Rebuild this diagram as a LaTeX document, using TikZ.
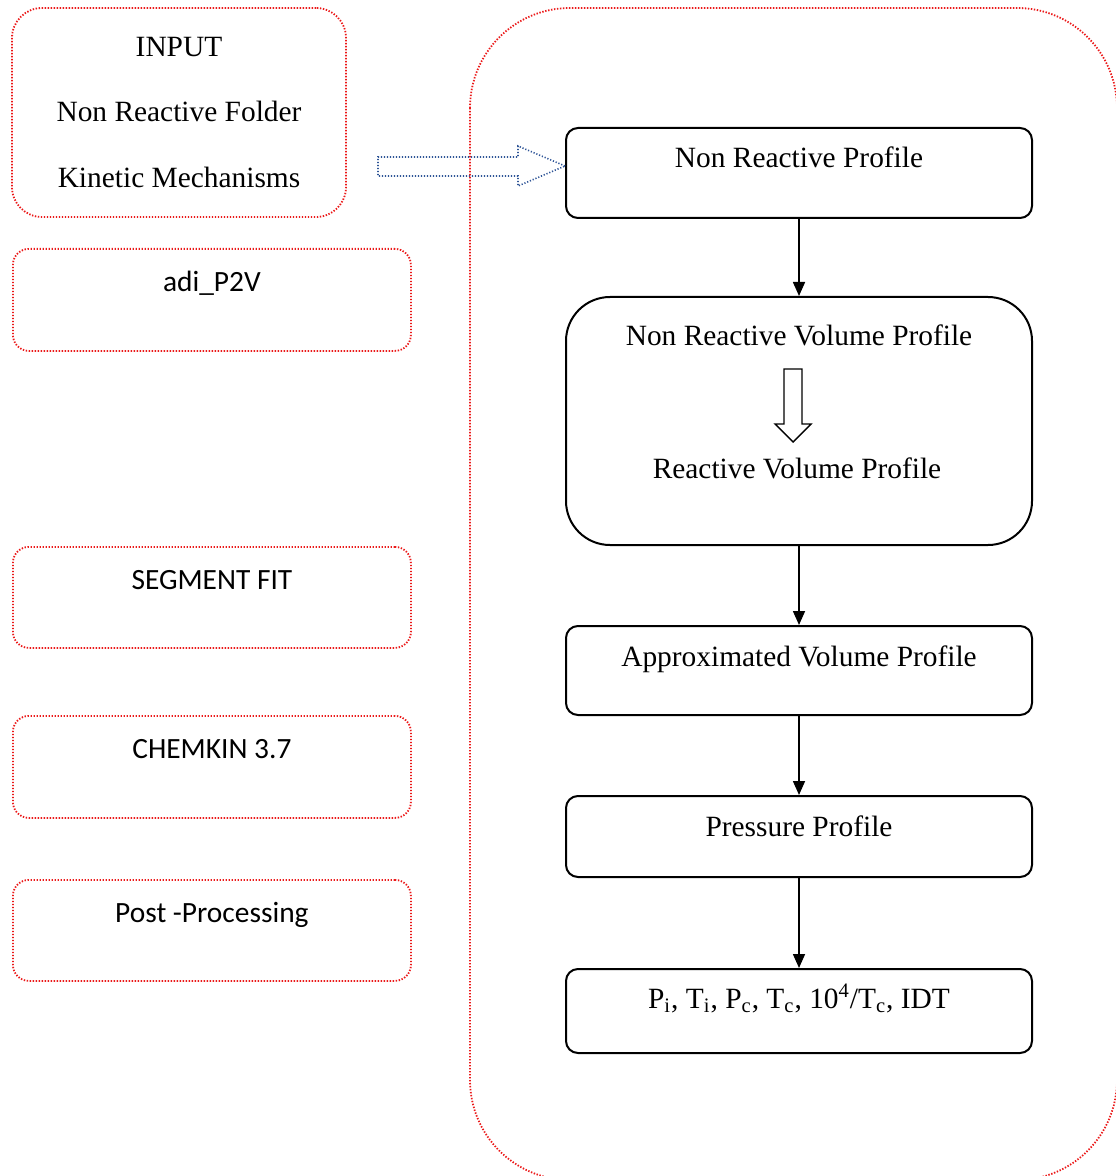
\documentclass[tikz,border=0pt]{standalone}
\usepackage{fontspec}
\setmainfont{Liberation Serif}
\newfontfamily\calibri{Carlito}
\usetikzlibrary{positioning, arrows.meta, calc}

\definecolor{dotred}{RGB}{235,25,25}
\definecolor{dotblue}{RGB}{47,85,151}

\begin{document}
\begin{tikzpicture}[
    x=0.5pt, y=-0.5pt,
    node distance=38.5pt,
    reddots/.style={draw=dotred, line width=0.9pt, dash pattern=on 0.7pt off 0.8pt},
    sidebox/.style={reddots, rounded corners=8pt, minimum width=199pt, inner sep=0pt, anchor=north west,
        font=\calibri\fontsize{14.7}{17}\selectfont, text height=21.5pt},
    stepbox/.style={draw, line width=1pt, rounded corners=6pt, minimum width=233pt, inner sep=0pt,
        font=\fontsize{14.7}{17}\selectfont},
    arr/.style={-{Triangle[length=7pt,width=6pt]}, line width=0.8pt},
]
\useasboundingbox (0,0) rectangle (1115,1176);

% left column
\node[reddots, rounded corners=15pt, minimum width=167pt, minimum height=104.5pt, align=center,
    font=\fontsize{14.7}{32.75}\selectfont] (input) at (179,112.5)
    {INPUT\\Non Reactive Folder\\Kinetic Mechanisms};
\node[sidebox, text depth=29.5pt] (adi) at (12,248) {adi\_P2V};
\node[sidebox, text depth=29pt] (seg) at (12,546) {SEGMENT FIT};
\node[sidebox, text depth=29.5pt] (chem) at (12,715) {CHEMKIN 3.7};
\node[sidebox, text depth=29pt] (post) at (12,879) {Post -Processing};

% right column
\node[stepbox, anchor=north west, text height=20pt, text depth=25pt] (nrp) at (565,127) {Non Reactive Profile};
\node[stepbox, rounded corners=22pt, below=of nrp, text height=24pt, text depth=100pt] (nrvp) {Non Reactive Volume Profile};
\node[font=\fontsize{14.7}{17}\selectfont] (rvp) at (797,468) {Reactive Volume Profile};
\node[stepbox, below=39.5pt of nrvp, text height=20pt, text depth=24.5pt] (avp) {Approximated Volume Profile};
\node[stepbox, below=39.5pt of avp, text height=20pt, text depth=20.5pt] (pp) {Pressure Profile};
\node[stepbox, below=45pt of pp, text height=19.5pt, text depth=22.5pt] (res)
    {P\textsubscript{i}, T\textsubscript{i}, P\textsubscript{c}, T\textsubscript{c}, 10\textsuperscript{4}/T\textsubscript{c}, IDT};

\draw[arr] (nrp) -- (nrvp);
\draw[arr] (nrvp) -- (avp);
\draw[arr] (avp) -- (pp);
\draw[arr] (pp) -- (res);

% hollow arrow inside the volume box
\coordinate (hol) at ($(nrvp.north)+(-6,73)$);
\draw[line width=0.7pt] (hol) ++(-9,0) -- ++(18,0) -- ++(0,55) -- ++(9,0) -- ++(-18,18) -- ++(-18,-18) -- ++(9,0) -- cycle;

% dotted input arrow
\coordinate (tip) at ($(nrp.west)+(0,-7)$);
\draw[draw=dotblue, line width=0.8pt, dash pattern=on 0.6pt off 0.9pt]
    (tip) -- ++(-47,-20) -- ++(0,11) -- ++(-140,0) -- ++(0,19) -- ++(140,0) -- ++(0,10) -- cycle;

% processing frame
\draw[reddots, rounded corners=50pt] (470,8) rectangle (1117,1180);
\end{tikzpicture}
\end{document}
